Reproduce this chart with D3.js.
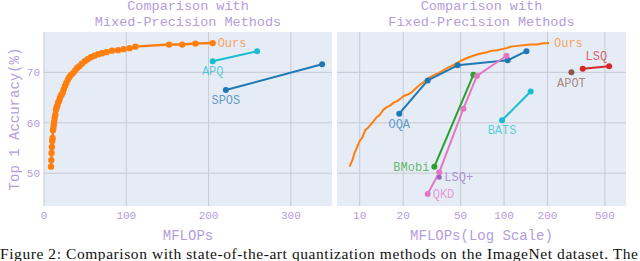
<!DOCTYPE html>
<html>
<head>
<meta charset="utf-8">
<script src="https://d3js.org/d3.v7.min.js"></script>
<style>
  body { margin: 0; background: #fff; }
  text { font-family: "Liberation Mono", "DejaVu Sans Mono", monospace; }
</style>
</head>
<body>
<div id="chart"></div>
<script>
// Data
const oursX = [8.5, 8.9, 9.2, 9.6, 10.0, 10.4, 10.9, 11.3, 11.8, 12.4, 13.0, 13.8, 14.6, 15.4, 16.2,
  17.2, 18.2, 19.2, 20.2, 21.5, 22.8, 24.0, 25.5, 27.2, 29.1, 31.0, 33.0, 35.5, 38.0, 40.5, 43.0,
  46.0, 49.5, 53.0, 57.0, 61.3, 66.0, 70.5, 76.0, 82.6, 90.0, 96.7, 104, 111, 152, 168, 184, 205]
const oursY = [51.3, 52.6, 54.0, 55.2, 56.4, 57.0, 58.5, 58.9, 59.5, 60.2, 61.0, 61.6, 62.6, 63.1, 63.4,
  64.0, 64.3, 64.8, 65.3, 65.6, 66.0, 66.6, 67.3, 67.9, 68.6, 69.1, 69.5, 69.9, 70.4, 70.9, 71.2,
  71.7, 72.2, 72.6, 73.0, 73.3, 73.6, 73.8, 74.0, 74.3, 74.4, 74.6, 74.8, 75.1, 75.5, 75.5, 75.7, 75.8]

const apqX = [205, 259], apqY = [72.2, 74.2]
const sposX = [221, 338], sposY = [66.5, 71.6]
const oqaX = [18.8, 29.6, 47.7, 106, 143], oqaY = [61.8, 68.4, 71.4, 72.4, 74.2]
const bmobiX = [32.9, 61.3], bmobiY = [51.3, 69.5]
const qkdX = [29.6, 35.6, 52.3, 64.9, 104], qkdY = [45.9, 50.2, 62.8, 69.3, 73.3]
const lsqPlusX = [35.6], lsqPlusY = [49.2]
const batsX = [96.9, 153], batsY = [60.5, 66.2]
const apotX = [293], apotY = [70.0]
const lsqX = [351, 535], lsqY = [70.7, 71.2]

const leftTicksX = [0, 100, 200, 300]
const rightTicksX = [10, 20, 50, 100, 200, 500]
const ticksY = [50, 60, 70]

const purple = "#b39ddb"
const W = 640, H = 261

const svg = d3.select("#chart").append("svg")
  .attr("width", W).attr("height", H)

// Scales
const y = d3.scaleLinear().domain([43.5, 78]).range([206, 32])
const xL = d3.scaleLinear().domain([0, 350]).range([44, 332])
const xR = d3.scaleLog().domain([6.96, 700]).range([337, 626])

const zip = (xs, ys) => xs.map((v, i) => [v, ys[i]])

function panel(x, ticks, title, xTitle, showY) {
  const [x0, x1] = x.range()
  const g = svg.append("g")
  g.append("rect").attr("x", x0).attr("y", 32).attr("width", x1 - x0).attr("height", 174)
    .attr("fill", "#e5ecf6")
  g.selectAll(".gx").data(ticks).join("line")
    .attr("x1", d => x(d)).attr("x2", d => x(d)).attr("y1", 32).attr("y2", 206)
    .attr("stroke", "#c6cad3").attr("stroke-width", 1)
  g.selectAll(".gy").data(ticksY).join("line")
    .attr("x1", x0).attr("x2", x1).attr("y1", d => y(d)).attr("y2", d => y(d))
    .attr("stroke", "#c6cad3").attr("stroke-width", 1)
  // tick labels
  g.selectAll(".tx").data(ticks).join("text")
    .attr("x", d => x(d)).attr("y", 219)
    .attr("text-anchor", "middle").attr("font-size", 11).attr("fill", purple)
    .text(d => d)
  if (showY) {
    g.selectAll(".ty").data(ticksY).join("text")
      .attr("x", 40).attr("y", d => y(d)).attr("dy", "0.35em")
      .attr("text-anchor", "end").attr("font-size", 11).attr("fill", purple)
      .text(d => d)
  }
  const cx = (x0 + x1) / 2
  g.append("text").attr("x", cx).attr("y", 9.5).attr("text-anchor", "middle")
    .attr("font-size", 13.5).attr("fill", purple).text(title[0])
  g.append("text").attr("x", cx).attr("y", 26).attr("text-anchor", "middle")
    .attr("font-size", 13.5).attr("fill", purple).text(title[1])
  g.append("text").attr("x", cx).attr("y", 240).attr("text-anchor", "middle")
    .attr("font-size", 14).attr("fill", purple).text(xTitle)
  return g
}

function series(g, x, xs, ys, color, opts) {
  const pts = zip(xs, ys)
  const line = d3.line().x(d => x(d[0])).y(d => y(d[1]))
  if (pts.length > 1) {
    g.append("path").attr("d", line(pts)).attr("fill", "none")
      .attr("stroke", color).attr("stroke-width", opts.width || 2)
      .attr("stroke-linejoin", "round")
  }
  if (opts.markers !== false) {
    g.selectAll(null).data(pts).join("circle")
      .attr("cx", d => x(d[0])).attr("cy", d => y(d[1]))
      .attr("r", opts.r || 3).attr("fill", color)
  }
  const p = opts.at === "last" ? pts[pts.length - 1] : pts[0]
  const pos = opts.pos
  let dx = 0, dy = 0, anchor = "middle"
  if (pos === "right") { dx = 5; anchor = "start" }
  if (pos === "left") { dx = -5; anchor = "end" }
  if (pos === "below") { dy = 10 }
  if (pos === "aboveLeft") { dx = -2; dy = -10; anchor = "end" }
  g.append("text").attr("x", x(p[0]) + dx).attr("y", y(p[1]) + dy).attr("dy", "0.35em")
    .attr("text-anchor", anchor).attr("font-size", 12)
    .attr("fill", color).attr("fill-opacity", 0.7).text(opts.label)
}

const left = panel(xL, leftTicksX, ["Comparison with", "Mixed-Precision Methods"], "MFLOPs", true)
const right = panel(xR, rightTicksX, ["Comparison with", "Fixed-Precision Methods"], "MFLOPs(Log Scale)", false)

series(left, xL, oursX, oursY, "#ff7f0e", { label: "Ours", at: "last", pos: "right", width: 2.5, r: 3.2 })
series(left, xL, apqX, apqY, "#17becf", { label: "APQ", pos: "below" })
series(left, xL, sposX, sposY, "#1f77b4", { label: "SPOS", pos: "below" })

series(right, xR, oursX, oursY, "#ff7f0e", { label: "Ours", at: "last", pos: "right", width: 2, markers: false })
series(right, xR, oqaX, oqaY, "#1f77b4", { label: "OQA", pos: "below" })
series(right, xR, bmobiX, bmobiY, "#2ca02c", { label: "BMobi", pos: "left" })
series(right, xR, qkdX, qkdY, "#e377c2", { label: "QKD", pos: "right" })
series(right, xR, lsqPlusX, lsqPlusY, "#9467bd", { label: "LSQ+", pos: "right", r: 2.5 })
series(right, xR, batsX, batsY, "#17becf", { label: "BATS", pos: "below" })
series(right, xR, apotX, apotY, "#8c564b", { label: "APOT", pos: "below" })
series(right, xR, lsqX, lsqY, "#d62728", { label: "LSQ", at: "last", pos: "aboveLeft" })

// y axis title
svg.append("text").attr("transform", "translate(19,119) rotate(-90)")
  .attr("text-anchor", "middle").attr("font-size", 14).attr("fill", purple)
  .text("Top 1 Accuracy(%)")

// caption (cut off at the bottom edge)
svg.append("text").attr("x", 0).attr("y", 259)
  .attr("font-family", "'Liberation Serif', 'Times New Roman', serif")
  .style("font-family", "'Liberation Serif', serif")
  .attr("font-size", 15.5).attr("textLength", 638).attr("fill", "#111")
  .text("Figure 2: Comparison with state-of-the-art quantization methods on the ImageNet dataset. The")
</script>
</body>
</html>
